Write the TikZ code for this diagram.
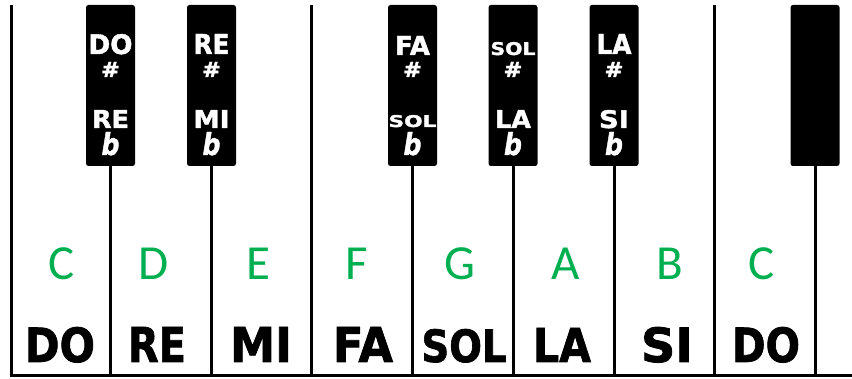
\documentclass[tikz,border=0pt]{standalone}
\usepackage{fontspec}
\setmainfont{DejaVu Sans}
\newfontfamily\heavy[FakeBold=1.6]{DejaVu Sans}
\newfontfamily\carl{Carlito}
\definecolor{kgreen}{RGB}{0,176,80}
\newcommand{\fitlab}[3]{\resizebox{#1pt}{#2pt}{\heavy\bfseries #3}}
\newcommand{\flatsign}{\resizebox{18pt}{23pt}{\heavy\bfseries\itshape b}}
\newcommand{\sharpsign}{\resizebox{19pt}{15pt}{\heavy\bfseries\#}}
\tikzset{
  bkey/.style={fill=black, draw=none, minimum width=49pt, minimum height=161pt, inner sep=0pt, rounded corners=2.5pt},
  keyline/.style={line width=3pt, black},
  wlab/.style={text=white, anchor=base, inner sep=0pt},
  blab/.style={text=black, anchor=base, inner sep=0pt},
  glab/.style={text=kgreen, anchor=base, inner sep=0pt, font={\carl\fontsize{49}{49}\selectfont}}
}
\begin{document}
\begin{tikzpicture}[x=1pt,y=-1pt]
\useasboundingbox (0,0) rectangle (852,379);
\fill[white] (0,0) rectangle (852,379);
% bottom reference coordinates
\coordinate (bot) at (0,376);
% full-height separators
\coordinate (s0t) at (11,5);
\coordinate (s0b) at (11,376);
\coordinate (s3t) at (311.5,5);
\coordinate (s3b) at (311.5,376);
\coordinate (s7t) at (714,5);
\coordinate (s7b) at (714,376);
\coordinate (bl) at (9.5,376);
\coordinate (br) at (852,376);
\draw[keyline] (s0t) -- (s0b);
\draw[keyline] (s3t) -- (s3b);
\draw[keyline] (s7t) -- (s7b);
\draw[keyline] (bl) -- (br);
% black keys
\node[bkey] (k1) at (110.5,85.5) {};
\node[bkey] (k2) at (211.5,85.5) {};
\node[bkey] (k3) at (412.5,85.5) {};
\node[bkey] (k4) at (513,85.5) {};
\node[bkey] (k5) at (614,85.5) {};
\node[bkey] (k6) at (815,85.5) {};
\foreach \k in {k1,k2,k3,k4,k5,k6}
  \draw[keyline] (\k.south) -- (\k.south |- bot);
% black key labels
\node[wlab] (k1a) at (110.5,54) {\fitlab{44}{20}{DO}};
\node[wlab] (k1b) at (110.5,77) {\sharpsign};
\node[wlab] (k1c) at (110.5,128) {\fitlab{37}{18}{RE}};
\node[wlab] (k1d) at (110.5,155) {\flatsign};
\node[wlab] (k2a) at (211.5,54) {\fitlab{36}{20}{RE}};
\node[wlab] (k2b) at (211.5,77) {\sharpsign};
\node[wlab] (k2c) at (211.5,128) {\fitlab{36}{18}{MI}};
\node[wlab] (k2d) at (211.5,155) {\flatsign};
\node[wlab] (k3a) at (412.5,55) {\fitlab{35}{19}{FA}};
\node[wlab] (k3b) at (412.5,77) {\sharpsign};
\node[wlab] (k3c) at (412.5,127) {\fitlab{48}{12}{SOL}};
\node[wlab] (k3d) at (412.5,155) {\flatsign};
\node[wlab] (k4a) at (513,55) {\fitlab{45}{13}{SOL}};
\node[wlab] (k4b) at (513,77) {\sharpsign};
\node[wlab] (k4c) at (513,128) {\fitlab{36}{18}{LA}};
\node[wlab] (k4d) at (513,155) {\flatsign};
\node[wlab] (k5a) at (614,54) {\fitlab{35}{20}{LA}};
\node[wlab] (k5b) at (614,77) {\sharpsign};
\node[wlab] (k5c) at (614,128) {\fitlab{30}{18}{SI}};
\node[wlab] (k5d) at (614,155) {\flatsign};
% green letters
\node[glab] (gC1) at (62,280) {C};
\node[glab] (gD) at (154,280) {D};
\node[glab] (gE) at (258,280) {E};
\node[glab] (gF) at (357,280) {F};
\node[glab] (gG) at (460,280) {G};
\node[glab] (gA) at (566,280) {A};
\node[glab] (gB) at (670,280) {B};
\node[glab] (gC2) at (762,280) {C};
% solfege names
\node[blab] (nDO1) at (60,362) {\fitlab{70}{35}{DO}};
\node[blab] (nRE) at (157,362) {\fitlab{58}{35}{RE}};
\node[blab] (nMI) at (261,362) {\fitlab{62}{35}{MI}};
\node[blab] (nFA) at (363,362) {\fitlab{60}{35}{FA}};
\node[blab] (nSOL) at (464,362) {\fitlab{85}{33}{SOL}};
\node[blab] (nLA) at (562,362) {\fitlab{58}{34}{LA}};
\node[blab] (nSI) at (667,362) {\fitlab{52}{35}{SI}};
\node[blab] (nDO2) at (766,362) {\fitlab{68}{35}{DO}};
\end{tikzpicture}
\end{document}
